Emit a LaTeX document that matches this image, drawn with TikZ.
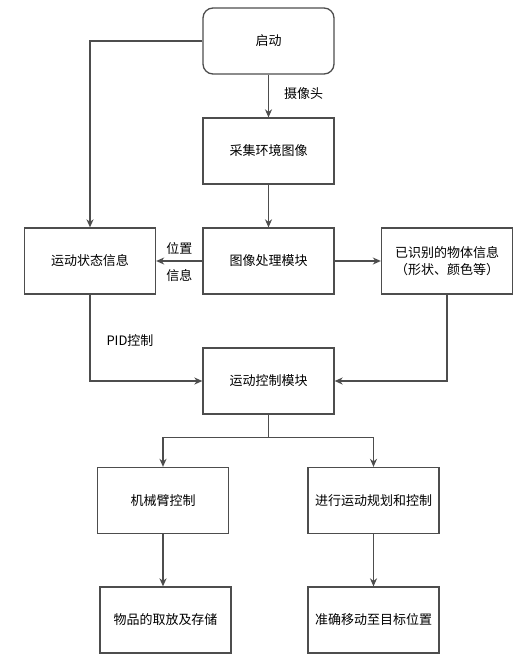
\documentclass[tikz,border=0pt]{standalone}
\usepackage{fontspec}
\setmainfont{Noto Sans CJK SC}
\usetikzlibrary{arrows.meta,positioning}
\definecolor{edgegray}{HTML}{4D4D4D}
\tikzset{
  blk/.style={draw=edgegray, line width=1.3pt, fill=white, minimum width=131pt, minimum height=66pt, align=center, inner sep=2pt},
  lnk/.style={draw=edgegray, line width=1.3pt, -{Stealth[length=8pt,width=7pt,inset=2.5pt]}},
  lbl/.style={inner sep=1pt}
}

\begin{document}
\begin{tikzpicture}[x=1pt, y=-1pt, font=\fontsize{13}{17}\selectfont]
         \useasboundingbox (0,0) rectangle (525,662);
         \node [blk, rounded corners=10pt] (start) at (268.5, 41) {启动};
         \node [blk] (capture) at (268.5, 151) {采集环境图像};
         \node [blk] (proc) at (268.5, 261) {图像处理模块};
         \node [blk] (state) at (90, 261) {运动状态信息};
         \node [blk] (objinfo) at (447, 261) {已识别的物体信息\\（形状、颜色等）};
         \node [blk] (motion) at (268.5, 381) {运动控制模块};
         \node [blk] (arm) at (163, 500.5) {机械臂控制};
         \node [blk] (plan) at (373.5, 500.5) {进行运动规划和控制};
         \node [blk] (pick) at (165.5, 620) {物品的取放及存储};
         \node [blk] (move) at (373.5, 620) {准确移动至目标位置};
         \node [lbl] (pidlabel) at (130, 341) {PID控制};
         \coordinate (split) at (268.5, 437.5);
         \draw [lnk] (start) -- node [lbl, right=14pt, pos=0.45] (camlabel) {摄像头} (capture);
         \draw [lnk] (capture) -- (proc);
         \draw [lnk] (start.west) -| (state.north);
         \draw [lnk] (proc) -- node [lbl, above=5pt] (poslabel) {位置} node [lbl, below=7pt] (infolabel) {信息} (state);
         \draw [lnk] (proc) -- (objinfo);
         \draw [lnk] (state.south) |- (motion.west);
         \draw [lnk] (objinfo.south) |- (motion.east);
         \draw [draw=edgegray, line width=1.3pt] (motion.south) -- (split);
         \draw [lnk] (split) -| (arm.north);
         \draw [lnk] (split) -| (plan.north);
         \draw [lnk] (arm.south) -- (arm.south |- pick.north);
         \draw [lnk] (plan) -- (move);
\end{tikzpicture}
\end{document}
